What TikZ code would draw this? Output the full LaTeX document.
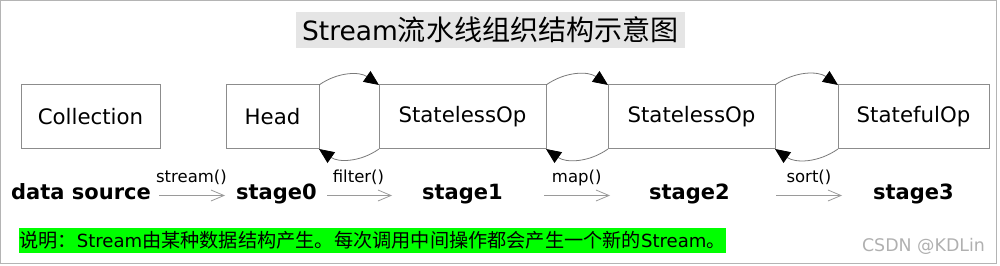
\documentclass[tikz,border=0pt]{standalone}
\usepackage{fontspec}
\setmainfont{DejaVu Sans}
\newfontfamily\cjk{Noto Sans CJK SC}[Scale=1.06]
\usetikzlibrary{arrows.meta, positioning}
\usepackage{xcolor}

\definecolor{framegray}{HTML}{B4B4B4}
\definecolor{boxgray}{HTML}{8C8C8C}
\definecolor{linkgray}{HTML}{7A7A7A}
\definecolor{flowgray}{HTML}{9A9A9A}
\definecolor{titlegray}{HTML}{E5E5E5}
\definecolor{notegreen}{HTML}{00FF00}
\definecolor{markgray}{HTML}{B0B0B0}

\begin{document}
\begin{tikzpicture}[
    x=1pt, y=1pt,
    box/.style={
        draw=boxgray,
        line width=1pt,
        rectangle,
        minimum height=64pt,
        inner sep=0pt,
        outer sep=0pt,
        font=\fontsize{21.3}{25}\selectfont
    },
    stage/.style={
        inner sep=0pt,
        anchor=base,
        text height=15pt,
        text depth=6pt,
        font=\fontsize{21}{25}\selectfont\bfseries
    },
    flow/.style={
        -{Straight Barb[length=13pt,width=11pt]},
        draw=flowgray,
        line width=0.8pt
    },
    call/.style={
        anchor=base,
        yshift=13pt,
        inner sep=0pt,
        font=\fontsize{16.5}{20}\selectfont
    },
    link/.style={
        -{Triangle[length=15pt,width=13pt,color=black]},
        draw=linkgray,
        line width=0.8pt,
        bend left=35
    },
    node distance=60pt
]
\useasboundingbox (0,0) rectangle (1000,265);
\draw[framegray, line width=1pt] (0.5,264.5) rectangle (996,2);

% Title
\node[fill=titlegray, minimum width=389pt, minimum height=36pt, inner sep=0pt,
      font=\fontsize{26.5}{30}\selectfont] (title) at (490.5,235)
      {Stream{\cjk 流水线组织结构示意图}};

% Boxes
\node[box, minimum width=139pt] (coll) at (90.5,148) {Collection};
\node[box, minimum width=93pt, right=66pt of coll] (head) {Head};
\node[box, minimum width=167pt, right=60pt of head] (opa) {StatelessOp};
\node[box, minimum width=167pt, right=62pt of opa] (opb) {StatelessOp};
\node[box, minimum width=151pt, right=63pt of opb] (opc) {StatefulOp};

\draw[link] (head.north east) to (opa.north west);
\draw[link] (opa.south west) to (head.south east);
\draw[link] (opa.north east) to (opb.north west);
\draw[link] (opb.south west) to (opa.south east);
\draw[link] (opb.north east) to (opc.north west);
\draw[link] (opc.south west) to (opb.south east);

% Stages
\node[stage] (src) at (81,65) {data source};
\node[stage] (st0) at (276.5,65) {stage0};
\node[stage] (st1) at (462.5,65) {stage1};
\node[stage] (st2) at (689.5,65) {stage2};
\node[stage] (st3) at (913.5,65) {stage3};

\draw[flow, shorten <=8pt, shorten >=11pt] (src.east) -- node[call, pos=0.476] {stream()} (st0.west);
\draw[flow, shorten <=10pt, shorten >=30pt] (st0.east) -- node[call, pos=0.395] {filter()} (st1.west);
\draw[flow, shorten <=41pt, shorten >=39pt] (st1.east) -- node[call, pos=0.505] {map()} (st2.west);
\draw[flow, shorten <=46pt, shorten >=31pt] (st2.east) -- node[call, pos=0.552] {sort()} (st3.west);

% Note
\node[fill=notegreen, anchor=west, minimum height=25pt, inner xsep=0pt, inner ysep=0pt,
      font=\fontsize{18.1}{22}\selectfont] (note) at (19,24.5)
      {{\cjk 说明：}Stream{\cjk 由某种数据结构产生。每次调用中间操作都会产生一个新的}Stream{\cjk 。}};
\node[text=markgray, inner sep=0pt, font=\fontsize{17.4}{20}\selectfont] (mark) at (923.5,19) {CSDN @KDLin};

\end{tikzpicture}
\end{document}
